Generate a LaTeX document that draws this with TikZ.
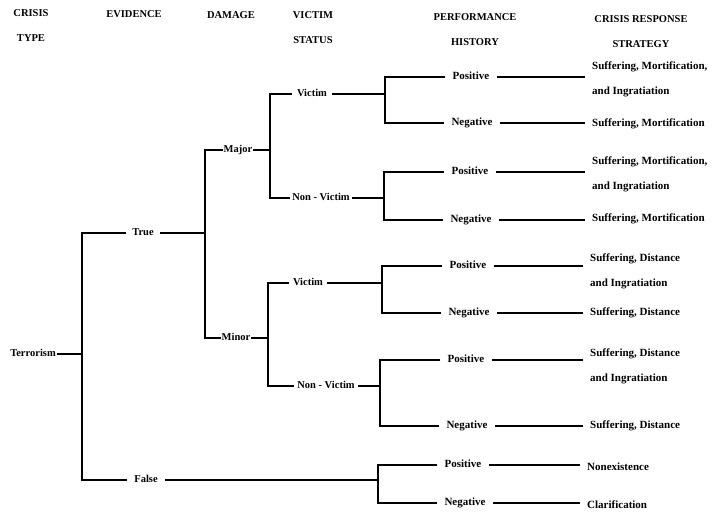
\documentclass[tikz,border=0pt]{standalone}
\usepackage{fontspec}
\setmainfont{Liberation Serif}
\usepackage{tikz}
\usetikzlibrary{positioning}
\tikzset{
  head/.style  ={align=center,inner sep=1pt,font=\fontsize{10.5}{25}\selectfont\bfseries},
  lbl/.style   ={anchor=mid,inner xsep=3pt,inner ysep=1pt,font=\fontsize{10.5}{12}\selectfont\bfseries},
  perf/.style  ={anchor=mid,inner xsep=7pt,inner ysep=1pt,font=\fontsize{11}{12}\selectfont\bfseries},
  strat/.style ={anchor=west,align=left,inner xsep=7pt,inner ysep=1pt,
                 font=\fontsize{11}{25}\selectfont\bfseries},
  branch/.style={line width=1.3pt,draw=black}
}

\begin{document}
\begin{tikzpicture}[x=1pt,y=-1pt]
  \useasboundingbox (0,0) rectangle (712,513);
  % column heads
  \node[head] (hType)  at (31,26)  {CRISIS\\TYPE};
  \node[head] (hEvid)  at (134,14) {EVIDENCE};
  \node[head] (hDam)   at (231,15) {DAMAGE};
  \node[head] (hVict)  at (313,28) {VICTIM\\STATUS};
  \node[head] (hPerf)  at (475,30) {PERFORMANCE\\HISTORY};
  \node[head] (hStrat) at (641,32) {CRISIS RESPONSE\\STRATEGY};
  % crisis type and evidence
  \node[lbl,inner xsep=1pt] (terr) at (33,354) {Terrorism};
  \coordinate (jEvid) at (82,354);
  \node[lbl,inner xsep=6pt] (tru) at (143,233) {True};
  \node[lbl,inner xsep=7pt] (fal) at (146,480) {False};
  % damage
  \coordinate (jDam) at (205,234);
  \node[lbl,inner xsep=1pt] (maj) at (238,150) {Major};
  \node[lbl,inner xsep=1pt] (mnr) at (236,338) {Minor};
  % victim status
  \coordinate (jVicA) at (270,151);
  \coordinate (jVicB) at (268,339);
  \node[lbl,inner xsep=5pt] (vicA) at (312,94)  {Victim};
  \node[lbl,inner xsep=2pt] (nonA) at (321,198) {Non - Victim};
  \node[lbl,inner xsep=4pt] (vicB) at (308,283) {Victim};
  \node[lbl,inner xsep=3pt] (nonB) at (326,386) {Non - Victim};
  % performance history
  \coordinate (jPerfA) at (385,96);
  \coordinate (jPerfB) at (384,200);
  \coordinate (jPerfC) at (382,284);
  \coordinate (jPerfD) at (380,387);
  \coordinate (jPerfE) at (378,482);
  \node[perf] (posA) at (471,77)  {Positive};
  \node[perf] (negA) at (472,123) {Negative};
  \node[perf] (posB) at (470,172) {Positive};
  \node[perf] (negB) at (471,220) {Negative};
  \node[perf] (posC) at (468,266) {Positive};
  \node[perf] (negC) at (469,313) {Negative};
  \node[perf] (posD) at (466,360) {Positive};
  \node[perf] (negD) at (467,426) {Negative};
  \node[perf] (posE) at (463,465) {Positive};
  \node[perf] (negE) at (465,503) {Negative};
  % response strategies
  \node[strat] (stA1) at (585,79)  {Suffering, Mortification,\\and Ingratiation};
  \node[strat] (stA2) at (585,124) {Suffering, Mortification};
  \node[strat] (stB1) at (585,174) {Suffering, Mortification,\\and Ingratiation};
  \node[strat] (stB2) at (585,219) {Suffering, Mortification};
  \node[strat] (stC1) at (583,271) {Suffering, Distance\\and Ingratiation};
  \node[strat] (stC2) at (583,313) {Suffering, Distance};
  \node[strat] (stD1) at (583,366) {Suffering, Distance\\and Ingratiation};
  \node[strat] (stD2) at (583,426) {Suffering, Distance};
  \node[strat] (stE1) at (580,467) {Nonexistence};
  \node[strat] (stE2) at (580,505) {Clarification};
  % branches
  \draw[branch] (terr.mid east) -- (terr.mid -| jEvid);
  \draw[branch] (tru.mid west) -| (jEvid) |- (fal.mid west);
  \draw[branch] (tru.mid east) -- (tru.mid -| jDam);
  \draw[branch] (maj.mid west) -| (jDam) |- (mnr.mid west);
  \draw[branch] (maj.mid east) -- (maj.mid -| jVicA);
  \draw[branch] (mnr.mid east) -- (mnr.mid -| jVicB);
  \draw[branch] (vicA.mid west) -| (jVicA) |- (nonA.mid west);
  \draw[branch] (vicB.mid west) -| (jVicB) |- (nonB.mid west);
  \draw[branch] (vicA.mid east) -- (vicA.mid -| jPerfA);
  \draw[branch] (nonA.mid east) -- (nonA.mid -| jPerfB);
  \draw[branch] (vicB.mid east) -- (vicB.mid -| jPerfC);
  \draw[branch] (nonB.mid east) -- (nonB.mid -| jPerfD);
  \draw[branch] (fal.mid east) -- (fal.mid -| jPerfE);
  \draw[branch] (posA.mid west) -| (jPerfA) |- (negA.mid west);
  \draw[branch] (posB.mid west) -| (jPerfB) |- (negB.mid west);
  \draw[branch] (posC.mid west) -| (jPerfC) |- (negC.mid west);
  \draw[branch] (posD.mid west) -| (jPerfD) |- (negD.mid west);
  \draw[branch] (posE.mid west) -| (jPerfE) |- (negE.mid west);
  \foreach \p/\s in {posA/stA1,negA/stA2,posB/stB1,negB/stB2,posC/stC1,
                     negC/stC2,posD/stD1,negD/stD2,posE/stE1,negE/stE2}
    \draw[branch] (\p.mid east) -- (\s.west |- \p.mid);
\end{tikzpicture}
\end{document}
